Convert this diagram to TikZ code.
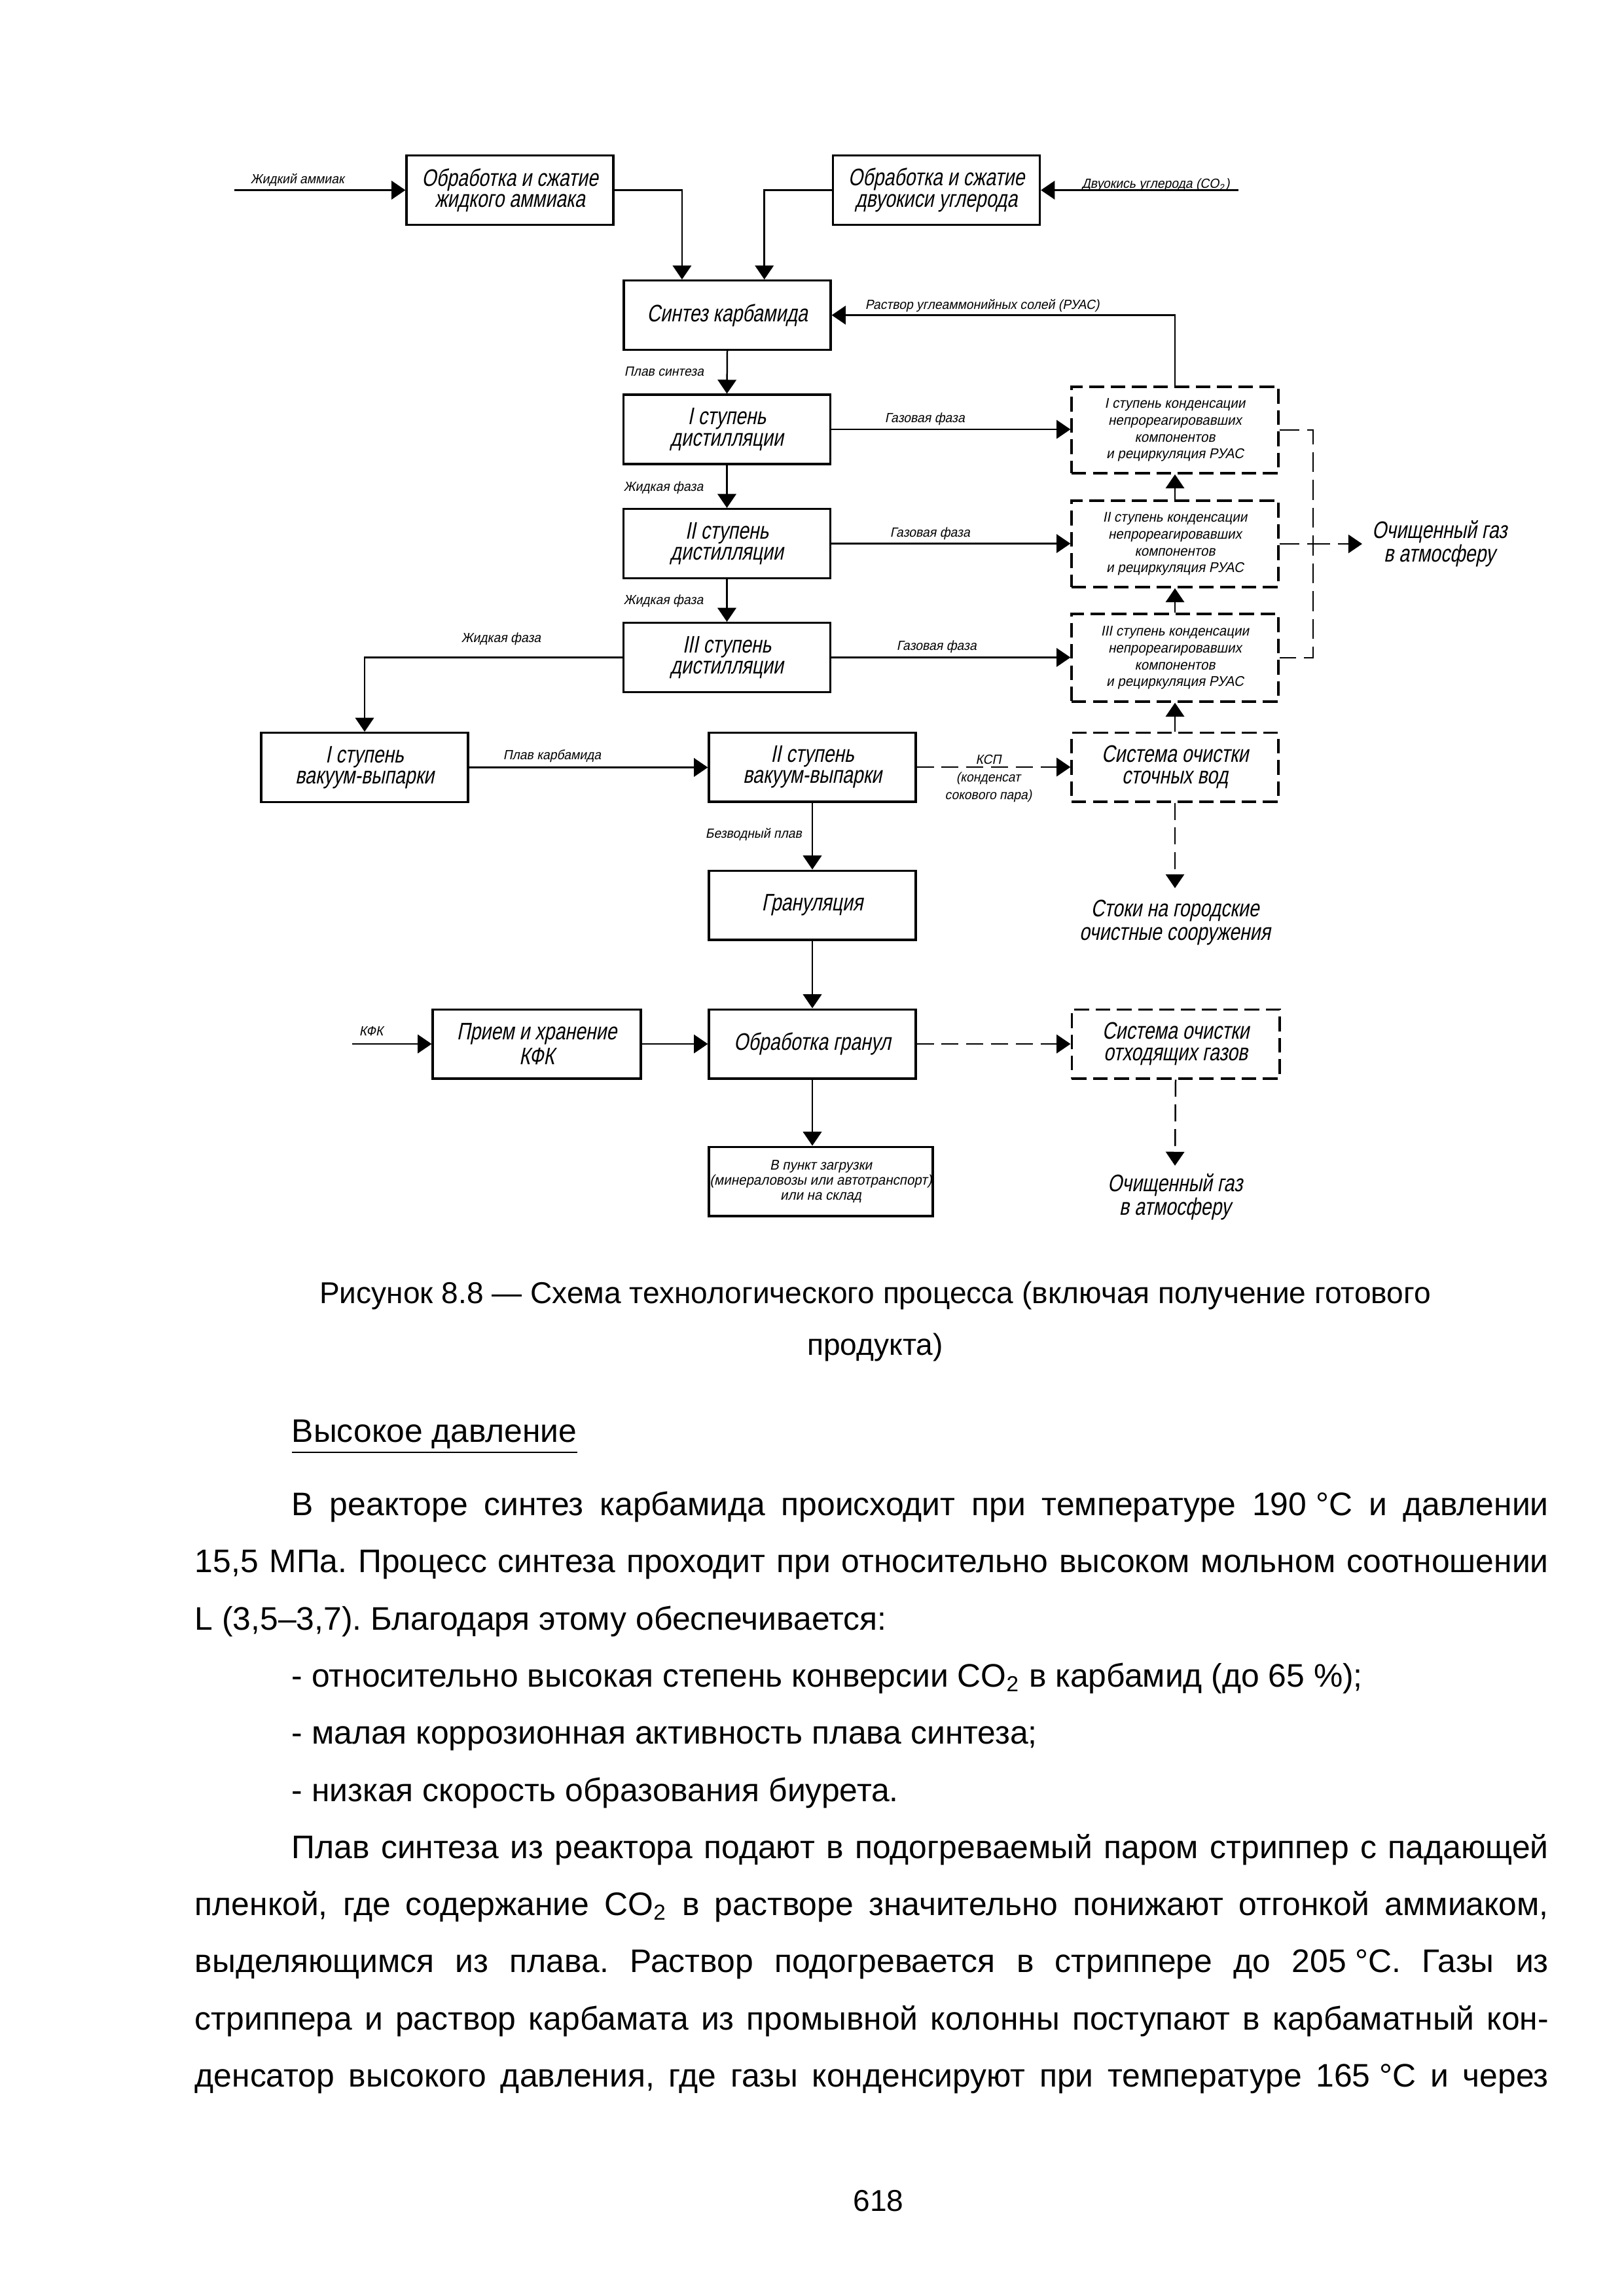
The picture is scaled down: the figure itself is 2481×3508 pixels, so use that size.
\documentclass[tikz,border=0pt]{standalone}
\usepackage{fontspec}
\setmainfont{Liberation Sans}
\newfontfamily\gostfont[FakeSlant=0.2,FakeStretch=0.78]{Liberation Sans}
\newfontfamily\gostwide[FakeSlant=0.2,FakeStretch=0.95]{Liberation Sans}
\usetikzlibrary{arrows.meta}
\frenchspacing
\newcommand{\bigtxt}{\gostfont\fontsize{8.8}{7.8}\selectfont}
\newcommand{\smalltxt}{\gostwide\fontsize{5.2}{6.2}\selectfont}
\newcommand{\lbltxt}{\gostwide\fontsize{4.9}{6.5}\selectfont}
\newcommand{\captxt}{\fontsize{11.1}{19}\selectfont}
\newcommand{\bodytxt}{\fontsize{12}{21}\selectfont}
\newlength{\fullw}\setlength{\fullw}{175.09mm}
\newlength{\indw}\setlength{\indw}{162.56mm}
\newcommand{\jline}[2]{\makebox[#1][s]{#2}}
\newcommand{\degC}[1]{#1\kern0.28em°C}

\tikzset{
  blok/.style={draw,line width=0.8pt,minimum width=26.75mm,minimum height=8.95mm,
    inner sep=0pt,align=center,font=\bigtxt},
  kblok/.style={blok,dash pattern=on 1.9mm off 0.85mm,minimum height=11.2mm,font=\smalltxt},
  dblok/.style={blok,dash pattern=on 1.9mm off 0.85mm},
  lbl/.style={inner sep=0pt,anchor=base west,font=\lbltxt},
  outlbl/.style={align=center,font=\gostfont\fontsize{8.8}{8.7}\selectfont},
  flow/.style={-{Triangle[length=1.8mm,width=2.4mm]},line width=0.6pt},
  dflow/.style={flow,dash pattern=on 2.2mm off 1mm},
  dline/.style={line width=0.6pt,dash pattern=on 2.6mm off 1mm},
  body/.style={inner sep=0pt,anchor=base west,font=\bodytxt},
}

\begin{document}
\begin{tikzpicture}[x=0.084667mm,y=-0.084667mm]
  \useasboundingbox (0,0) rectangle (2481,3508);

  % bloki
  \node[blok] (amm) at (779,290.5) {Обработка и сжатие\\жидкого аммиака};
  \node[blok] (co2) at (1430.5,290.5) {Обработка и сжатие\\двуокиси углерода};
  \node[blok] (sint) at (1111,481.5) {Синтез карбамида};
  \node[blok] (dist1) at (1110.5,656) {I ступень\\дистилляции};
  \node[blok] (dist2) at (1110.5,830.5) {II ступень\\дистилляции};
  \node[blok] (dist3) at (1110.5,1004.5) {III ступень\\дистилляции};
  \node[kblok] (kond1) at (1795,657) {I ступень конденсации\\непрореагировавших\\компонентов\\и рециркуляция РУАС};
  \node[kblok] (kond2) at (1795,831) {II ступень конденсации\\непрореагировавших\\компонентов\\и рециркуляция РУАС};
  \node[kblok,minimum height=11.35mm] (kond3) at (1795,1005) {III ступень конденсации\\непрореагировавших\\компонентов\\и рециркуляция РУАС};
  \node[blok] (vak1) at (557,1172.5) {I ступень\\вакуум-выпарки};
  \node[blok] (vak2) at (1241,1172) {II ступень\\вакуум-выпарки};
  \node[dblok] (stoch) at (1795,1172) {Система очистки\\сточных вод};
  \node[blok] (gran) at (1241,1383) {Грануляция};
  \node[blok,minimum width=26.9mm] (kfk) at (820,1595) {Прием и хранение\\КФК};
  \node[blok] (obr) at (1241,1595) {Обработка гранул};
  \node[dblok,minimum width=26.9mm] (otkh) at (1796,1595) {Система очистки\\отходящих газов};
  \node[blok,minimum width=28.95mm,font=\gostwide\fontsize{5.2}{5.5}\selectfont] (pogr) at (1254,1805)
    {В пункт загрузки\\(минераловозы или автотранспорт)\\или на склад};

  % vykhody
  \node[outlbl,anchor=west,inner sep=1.2mm] (atm1) at (2081,831) {Очищенный газ\\в атмосферу};
  \node[outlbl,anchor=north,inner sep=1.45mm] (stoki) at (1795,1357) {Стоки на городские\\очистные сооружения};
  \node[outlbl,anchor=north,inner sep=1mm] (atm2) at (1795,1781) {Очищенный газ\\в атмосферу};

  % nadpisi
  \node[lbl] (l_amm) at (382,280) {Жидкий аммиак};
  \node[lbl] (l_co2) at (1652,287) {Двуокись углерода (CO\textsubscript{2})};
  \node[lbl] (l_ruas) at (1321,472) {Раствор углеаммонийных солей (РУАС)};
  \node[lbl] (l_plav) at (953,574) {Плав синтеза};
  \node[lbl] (l_gaz1) at (1351,645) {Газовая фаза};
  \node[lbl] (l_zh1) at (952,750) {Жидкая фаза};
  \node[lbl] (l_gaz2) at (1359,820) {Газовая фаза};
  \node[lbl] (l_zh2) at (952,923) {Жидкая фаза};
  \node[lbl] (l_gaz3) at (1369,993) {Газовая фаза};
  \node[lbl] (l_zh3) at (704,981) {Жидкая фаза};
  \node[lbl] (l_karb) at (768,1160) {Плав карбамида};
  \node[lbl,anchor=north,align=center] (l_ksp) at (1510,1152) {КСП\\(конденсат\\сокового пара)};
  \node[lbl] (l_bezv) at (1077,1280) {Безводный плав};
  \node[lbl] (l_kfk) at (548,1582) {КФК};

  \coordinate (vh_amm) at (358,290.5);
  \coordinate (vh_co2) at (1892,290.5);
  \coordinate (vh_kfk) at (538,1595);
  \coordinate (kol) at (2006,831);

  % potoki
  \draw[flow] (vh_amm) -- (amm.west);
  \draw[flow] (vh_co2) -- (co2.east);
  \draw[flow] (amm.east) -| ([xshift=-5.85mm]sint.north);
  \draw[flow] (co2.west) -| ([xshift=4.8mm]sint.north);
  \draw[flow] (kond1.north) |- (sint.east);
  \draw[flow] (sint.south) -- (dist1.north);
  \draw[flow] (dist1.south) -- (dist2.north);
  \draw[flow] (dist2.south) -- (dist3.north);
  \draw[flow] (dist1.east) -- (dist1.east -| kond1.west);
  \draw[flow] (dist2.east) -- (dist2.east -| kond2.west);
  \draw[flow] (dist3.east) -- (dist3.east -| kond3.west);
  \draw[flow] (kond2.north) -- (kond1.south);
  \draw[flow] (kond3.north) -- (kond2.south);
  \draw[dline] (kond1.east) -| (kol) |- (kond3.east);
  \draw[dline] (kond2.east) -- (kol);
  \draw[dflow] (kol) -- (atm1.west);
  \draw[flow] (dist3.west) -| (vak1.north);
  \draw[flow] (vak1.east) -- (vak1.east -| vak2.west);
  \draw[dflow] (vak2.east) -- (stoch.west);
  \draw[flow] (stoch.north) -- (kond3.south);
  \draw[dflow] (stoch.south) -- (stoki.north);
  \draw[flow] (vak2.south) -- (gran.north);
  \draw[flow] (gran.south) -- (obr.north);
  \draw[flow] (vh_kfk) -- (kfk.west);
  \draw[flow] (kfk.east) -- (obr.west);
  \draw[dflow] (obr.east) -- (otkh.west);
  \draw[dflow] (otkh.south) -- (atm2.north);
  \draw[flow] (obr.south) -- (obr.south |- pogr.north);

  % podpis i tekst
  \node[body,anchor=base,font=\captxt] (cap1) at (1337,1991) {Рисунок 8.8 — Схема технологического процесса (включая получение готового};
  \node[body,anchor=base,font=\captxt] (cap2) at (1337,2070) {продукта)};
  \node[body] (head) at (445,2203) {\underline{Высокое давление}};
  \node[body] (t1) at (445,2315) {\jline{\indw}{В реакторе синтез карбамида происходит при температуре \degC{190} и давлении}};
  \node[body] (t2) at (297,2402) {\jline{\fullw}{15,5 МПа. Процесс синтеза проходит при относительно высоком мольном соотношении}};
  \node[body] (t3) at (297,2490) {L (3,5–3,7). Благодаря этому обеспечивается:};
  \node[body] (t4) at (445,2577) {- относительно высокая степень конверсии CO\textsubscript{2} в карбамид (до 65 \%);};
  \node[body] (t5) at (445,2664) {- малая коррозионная активность плава синтеза;};
  \node[body] (t6) at (445,2752) {- низкая скорость образования биурета.};
  \node[body] (t7) at (445,2839) {\jline{\indw}{Плав синтеза из реактора подают в подогреваемый паром стриппер с падающей}};
  \node[body] (t8) at (297,2926) {\jline{\fullw}{пленкой, где содержание CO\textsubscript{2} в растворе значительно понижают отгонкой аммиаком,}};
  \node[body] (t9) at (297,3013) {\jline{\fullw}{выделяющимся из плава. Раствор подогревается в стриппере до \degC{205}. Газы из}};
  \node[body] (t10) at (297,3101) {\jline{\fullw}{стриппера и раствор карбамата из промывной колонны поступают в карбаматный кон-}};
  \node[body] (t11) at (297,3188) {\jline{\fullw}{денсатор высокого давления, где газы конденсируют при температуре \degC{165} и через}};
  \node[body,anchor=base,font=\captxt] (str) at (1342,3378) {618};
\end{tikzpicture}
\end{document}
